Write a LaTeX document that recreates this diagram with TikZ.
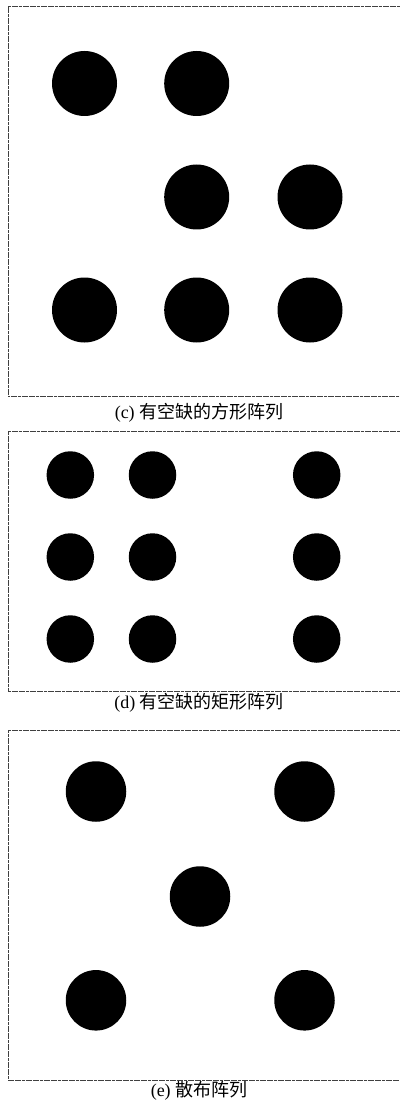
\documentclass[tikz,border=0pt]{standalone}
\usepackage{fontspec}
\setmainfont{Liberation Serif}
\newfontfamily\cjk{Noto Sans CJK SC}
\begin{document}
\begin{tikzpicture}[x=1pt,y=-1pt,
  dot/.style={circle,fill=black,inner sep=0pt,minimum size=#1},
  frame/.style={draw=black!75,line width=0.8pt,dash pattern=on 3pt off 0.6pt},
  captext/.style={font=\fontsize{18}{20}\selectfont,inner sep=0pt}]
\useasboundingbox (0,0) rectangle (399,1107);
% panel c
\draw[frame] (400,6.5) -- (8,6.5) -- (8,396.5) -- (400,396.5);
\foreach \n/\x/\y in {c1/84.5/83.5,c2/196.7/83.5,c3/196.7/197,c4/310/197,c5/84.5/310,c6/196.7/310,c7/310/310}
  \node[dot=65pt] (\n) at (\x,\y) {};
\node[captext] (capc) at (199,413) {(c) {\cjk 有空缺的方形阵列}};
% panel d
\draw[frame] (400,431.5) -- (8,431.5) -- (8,691) -- (400,691);
\foreach \n/\x/\y in {d1/70.3/475,d2/152.5/475,d3/316.7/475,d4/70.3/557,d5/152.5/557,d6/316.7/557,d7/70.3/639,d8/152.5/639,d9/316.7/639}
  \node[dot=47.5pt] (\n) at (\x,\y) {};
\node[captext] (capd) at (199,703) {(d) {\cjk 有空缺的矩形阵列}};
% panel e
\draw[frame] (400,730) -- (8,730) -- (8,1080) -- (400,1080);
\foreach \n/\x/\y in {e1/96/791.5,e2/304.5/791.5,e3/200/896.5,e4/96/1000.3,e5/304.5/1000.3}
  \node[dot=60.5pt] (\n) at (\x,\y) {};
\node[captext] (cape) at (199,1091) {(e) {\cjk 散布阵列}};
\end{tikzpicture}
\end{document}
